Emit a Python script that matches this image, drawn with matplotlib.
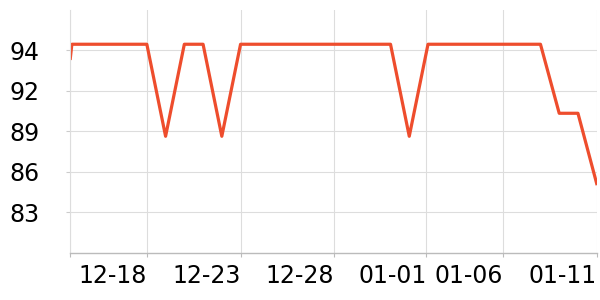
import pandas as pd
import matplotlib
matplotlib.use('Agg')
import matplotlib.pyplot as plt

# daily series, first sample a couple of hours before midnight of 12-14
times = ['2023-12-13 22:00'] + [d.strftime('%Y-%m-%d 00:00') for d in pd.date_range('2023-12-14', '2024-01-11')]
values = [93.9,
          94.87, 94.87, 94.87, 94.87, 94.87,   # 12-14 .. 12-18
          88.55, 94.87, 94.87, 88.55, 94.87,   # 12-19 .. 12-23
          94.87, 94.87, 94.87, 94.87, 94.87,   # 12-24 .. 12-28
          94.87, 94.87, 94.87,                 # 12-29 .. 12-31
          88.55, 94.87, 94.87, 94.87, 94.87,   # 01-01 .. 01-05
          94.87, 94.87, 94.87,                 # 01-06 .. 01-08
          90.13, 90.13, 85.3]                  # 01-09 .. 01-11

x_ticks = ['2023-12-13 22:00', '2023-12-18 00:00', '2023-12-23 00:00', '2023-12-28 00:00',
           '2024-01-01 22:00', '2024-01-06 00:00', '2024-01-11 00:00']
x_labels = ['', '12-18', '12-23', '12-28', '01-01', '01-06', '01-11']

y_ticks = [30 / 36 * 100, 31 / 36 * 100, 32 / 36 * 100, 33 / 36 * 100, 34 / 36 * 100]
y_labels = ['83', '86', '89', '92', '94']

df = pd.DataFrame({'time': pd.to_datetime(times, format='%Y-%m-%d %H:%M'), 'value': values})

fig = plt.figure(figsize=(6, 3), dpi=100)
ax = fig.add_axes([70.3 / 600, 1 - 252.7 / 300, (596.7 - 70.3) / 600, (252.7 - 10) / 300])

ax.plot(df['time'], df['value'], color='#ee4d2d', linewidth=2.3)

ax.set_xlim(df['time'].iloc[0], df['time'].iloc[-1])
ax.set_ylim(29 / 36 * 100, 35 / 36 * 100)

ax.set_xticks(pd.to_datetime(x_ticks, format='%Y-%m-%d %H:%M'))
ax.set_xticklabels(x_labels, ha='right')
ax.set_yticks(y_ticks)
ax.set_yticklabels(y_labels)

ax.grid(True, color='#dddddd', linewidth=0.8)
ax.set_axisbelow(True)
for side in ['top', 'right']:
    ax.spines[side].set_visible(False)
ax.spines['left'].set_color('#dddddd')
ax.spines['left'].set_linewidth(0.8)
ax.spines['bottom'].set_color('#bbbbbb')
ax.spines['bottom'].set_linewidth(1.0)

ax.tick_params(axis='y', length=3, color='#cccccc', labelsize=17, pad=19)
ax.tick_params(axis='x', length=3, color='#bbbbbb', labelsize=17, pad=5)

fig.savefig('out.png', dpi=100)
